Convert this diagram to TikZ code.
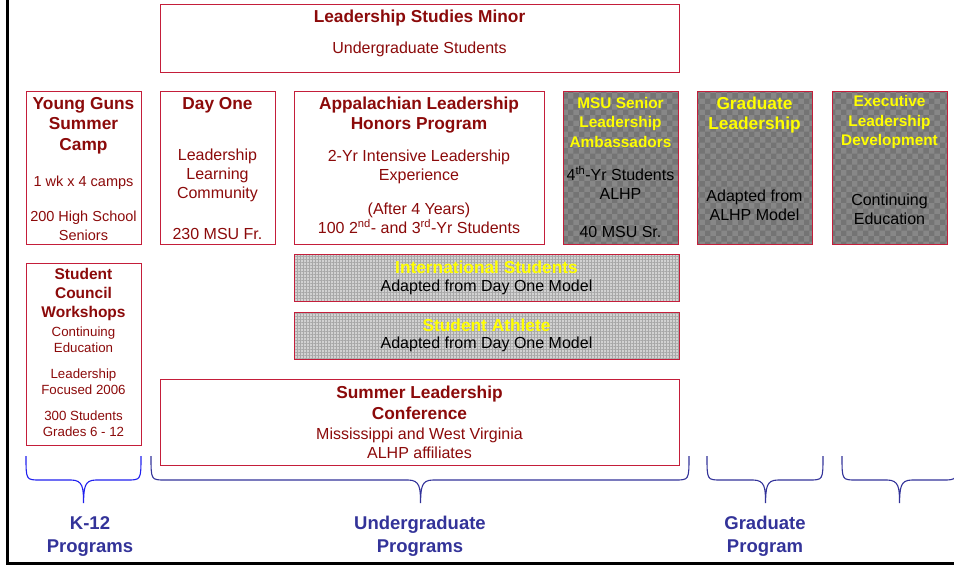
\documentclass[tikz,border=0pt]{standalone}
\usepackage{fontspec}
\usetikzlibrary{patterns,patterns.meta}
\setmainfont{Liberation Sans}
\definecolor{dred}{HTML}{8B0A0A}
\definecolor{bcol}{HTML}{C41E3A}
\definecolor{dgray}{HTML}{878787}
\definecolor{dgray2}{HTML}{747474}
\definecolor{lgray}{HTML}{D2D2D2}
\definecolor{lgray2}{HTML}{A8A8A8}
\definecolor{yel}{HTML}{FFFF00}
\definecolor{navy}{HTML}{333399}
\definecolor{kblue}{HTML}{2020EE}
\tikzset{
  box/.style={draw=bcol, line width=0.9pt, rectangle, inner sep=0pt, anchor=north west},
  gbox/.style={box, fill=dgray},
  lbox/.style={box, fill=lgray},
  txt/.style={align=center, inner sep=0pt, yshift=-1.8pt},
  hd/.style={txt, text=dred, font=\fontsize{17.3}{20.5}\selectfont\bfseries},
  hds/.style={txt, text=dred, font=\fontsize{15.5}{19}\selectfont\bfseries},
  bd/.style={txt, text=dred, font=\fontsize{14.5}{19}\selectfont},
  bdl/.style={txt, text=dred, font=\fontsize{16}{19}\selectfont},
  bds/.style={txt, text=dred, font=\fontsize{13.3}{16.5}\selectfont},
  yh/.style={txt, text=yel, font=\fontsize{15.4}{19.5}\selectfont\bfseries},
  yhl/.style={txt, text=yel, font=\fontsize{17.3}{20.5}\selectfont\bfseries},
  kb/.style={txt, text=black, font=\fontsize{16}{19}\selectfont},
  lab/.style={txt, text=navy, font=\fontsize{18.5}{23}\selectfont\bfseries},
  brace/.style={draw=navy, line width=1.1pt},
  checker/.style={pattern=checkerboard, pattern color=dgray2},
  gridv/.style={pattern={Lines[distance=3pt, angle=0, line width=0.9pt]}, pattern color=lgray2},
  gridh/.style={pattern={Lines[distance=3pt, angle=90, line width=0.9pt]}, pattern color=lgray2},
}
\begin{document}
\begin{tikzpicture}[x=1pt,y=-1pt]
\useasboundingbox (0,0) rectangle (954,565);
% frame lines
\draw[line width=3pt] (7.5,0) -- (7.5,563.5) -- (954,563.5);

% boxes
\node[box, minimum width=519pt, minimum height=68pt] (lsm) at (160,4) {};
\node[box, minimum width=115pt, minimum height=153pt] (yg) at (26,91) {};
\node[box, minimum width=115pt, minimum height=153pt] (d1) at (160,91) {};
\node[box, minimum width=250pt, minimum height=153pt] (alhp) at (294,91) {};
\node[gbox, minimum width=115pt, minimum height=153pt] (msu) at (563,91) {};
\node[gbox, minimum width=115pt, minimum height=153pt] (grad) at (697,91) {};
\node[gbox, minimum width=115pt, minimum height=153pt] (exec) at (832,91) {};
\node[lbox, minimum width=385pt, minimum height=47pt] (intl) at (294,254) {};
\node[lbox, minimum width=385pt, minimum height=47pt] (ath) at (294,312) {};
\node[box, minimum width=115pt, minimum height=182pt] (scw) at (26,263) {};
\node[box, minimum width=519pt, minimum height=86pt] (slc) at (160,379) {};

% textures
\foreach \b in {msu,grad,exec}{
  \path[checker] ([shift={(0.5pt,-0.5pt)}]\b.north west) rectangle ([shift={(-0.5pt,0.5pt)}]\b.south east);
  \draw[draw=bcol, line width=0.9pt] (\b.north west) rectangle (\b.south east);
}
\foreach \b in {intl,ath}{
  \path[gridv] ([shift={(0.5pt,-0.5pt)}]\b.north west) rectangle ([shift={(-0.5pt,0.5pt)}]\b.south east);
  \path[gridh] ([shift={(0.5pt,-0.5pt)}]\b.north west) rectangle ([shift={(-0.5pt,0.5pt)}]\b.south east);
  \draw[draw=bcol, line width=0.9pt] (\b.north west) rectangle (\b.south east);
}

% Leadership Studies Minor
\node[hd] (lsm-t) at (419.5,16) {Leadership Studies Minor};
\node[bdl] (lsm-b) at (419.5,48) {Undergraduate Students};

% Young Guns
\node[hd] (yg-t) at (83.5,123.5) {Young Guns\\Summer\\Camp};
\node[bd] (yg-b1) at (83.5,181) {1 wk x 4 camps};
\node[bd] (yg-b2) at (83.5,224.5) {200 High School\\Seniors};

% Day One
\node[hd] (d1-t) at (217.5,103) {Day One};
\node[bdl] (d1-b1) at (217.5,174) {Leadership\\Learning\\Community};
\node[bdl] (d1-b2) at (217.5,232) {230 MSU Fr.};

% ALHP
\node[hd] (alhp-t) at (419,113.5) {Appalachian Leadership\\Honors Program};
\node[bdl] (alhp-b1) at (419,165.5) {2-Yr Intensive Leadership\\Experience};
\node[bdl] (alhp-b2) at (419,216.5) {(After 4 Years)\\100 2\textsuperscript{nd}- and 3\textsuperscript{rd}-Yr Students};

% MSU Senior
\node[yh] (msu-t) at (620.5,120.5) {MSU Senior\\Leadership\\Ambassadors};
\node[kb] (msu-b1) at (620.5,181.5) {4\textsuperscript{th}-Yr Students\\ALHP};
\node[kb] (msu-b2) at (620.5,230) {40 MSU Sr.};

% Graduate Leadership
\node[yhl] (grad-t) at (754.5,113) {Graduate\\Leadership};
\node[kb] (grad-b) at (754.5,203.5) {Adapted from\\ALHP Model};

% Executive
\node[yh] (exec-t) at (889.5,120.5) {Executive\\Leadership\\Development};
\node[kb] (exec-b) at (889.5,207) {Continuing\\Education};

% International / Athlete
\node[yhl] (intl-t) at (486.5,266) {International Students};
\node[kb] (intl-b) at (486.5,285.5) {Adapted from Day One Model};
\node[yhl] (ath-t) at (486.5,323.5) {Student Athlete};
\node[kb] (ath-b) at (486.5,343) {Adapted from Day One Model};

% Student Council
\node[hds] (scw-t) at (83.5,293) {Student\\Council\\Workshops};
\node[bds] (scw-b1) at (83.5,338) {Continuing\\Education};
\node[bds] (scw-b2) at (83.5,380) {Leadership\\Focused 2006};
\node[bds] (scw-b3) at (83.5,422) {300 Students\\Grades 6 - 12};

% Summer Leadership Conference
\node[hd] (slc-t) at (419.5,401) {Summer Leadership\\Conference};
\node[bdl] (slc-b) at (419.5,441) {Mississippi and West Virginia\\ALHP affiliates};

% braces
\draw[brace, draw=kblue] (26,456) .. controls (26,480) .. (40,480) -- (71,480)
  .. controls (83,480) and (83.5,488) .. (83.5,503)
  .. controls (84,488) and (84,480) .. (96,480) -- (127,480) .. controls (141,480) .. (141,456);
\draw[brace] (151,456) .. controls (151,480) .. (165,480) -- (408,480)
  .. controls (420,480) and (420.5,488) .. (420.5,503)
  .. controls (421,488) and (421,480) .. (433,480) -- (675,480) .. controls (689,480) .. (689,456);
\draw[brace] (707,456) .. controls (707,480) .. (721,480) -- (753,480)
  .. controls (765,480) and (765.5,488) .. (765.5,503)
  .. controls (766,488) and (766,480) .. (778,480) -- (809,480) .. controls (823,480) .. (823,456);
\draw[brace] (842,456) .. controls (842,480) .. (856,480) -- (887,480)
  .. controls (899,480) and (899.5,488) .. (899.5,503)
  .. controls (900,488) and (900,480) .. (912,480) -- (943,480) .. controls (957,480) .. (957,456);

% labels
\node[lab] (k12) at (90,534.5) {K-12\\Programs};
\node[lab] (ugp) at (420,534.5) {Undergraduate\\Programs};
\node[lab] (gp) at (765,534.5) {Graduate\\Program};
\end{tikzpicture}
\end{document}
